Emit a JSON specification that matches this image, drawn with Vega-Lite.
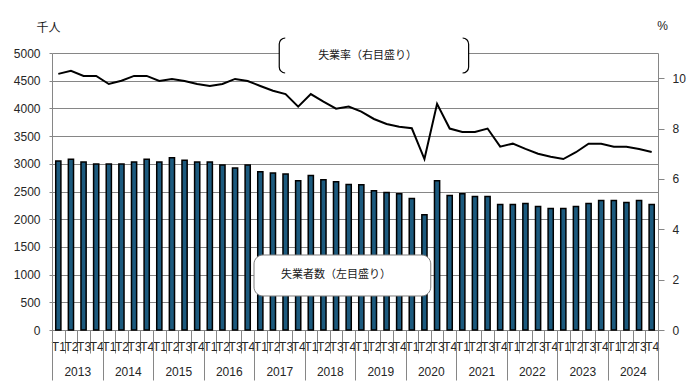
{
  "$schema": "https://vega.github.io/schema/vega-lite/v6.json",
  "width": 606,
  "height": 277,
  "autosize": {"type": "none"},
  "padding": {"left": 52, "top": 53, "right": 39, "bottom": 62},
  "background": "white",
  "config": {
    "view": {"stroke": null},
    "font": "Liberation Sans",
    "axisX": {
      "title": null, "tickBand": "extent", "tickColor": "#868686", "domainColor": "#868686",
      "labelFontSize": 12, "labelColor": "#262626", "labelAngle": 0,
      "labelOverlap": false, "labelBound": false, "labelFont": "Liberation Sans"
    }
  },
  "datasets": {
    "main": [
      {"p": "2013-T1", "year": 2013, "u": 3050, "r": 10.17},
      {"p": "2013-T2", "year": 2013, "u": 3080, "r": 10.29},
      {"p": "2013-T3", "year": 2013, "u": 3033, "r": 10.09},
      {"p": "2013-T4", "year": 2013, "u": 2998, "r": 10.09},
      {"p": "2014-T1", "year": 2014, "u": 2998, "r": 9.77},
      {"p": "2014-T2", "year": 2014, "u": 2998, "r": 9.90},
      {"p": "2014-T3", "year": 2014, "u": 3033, "r": 10.09},
      {"p": "2014-T4", "year": 2014, "u": 3080, "r": 10.09},
      {"p": "2015-T1", "year": 2015, "u": 3033, "r": 9.89},
      {"p": "2015-T2", "year": 2015, "u": 3110, "r": 9.97},
      {"p": "2015-T3", "year": 2015, "u": 3062, "r": 9.89},
      {"p": "2015-T4", "year": 2015, "u": 3033, "r": 9.77},
      {"p": "2016-T1", "year": 2016, "u": 3033, "r": 9.69},
      {"p": "2016-T2", "year": 2016, "u": 2980, "r": 9.77},
      {"p": "2016-T3", "year": 2016, "u": 2925, "r": 9.97},
      {"p": "2016-T4", "year": 2016, "u": 2980, "r": 9.89},
      {"p": "2017-T1", "year": 2017, "u": 2855, "r": 9.69},
      {"p": "2017-T2", "year": 2017, "u": 2836, "r": 9.50},
      {"p": "2017-T3", "year": 2017, "u": 2818, "r": 9.37},
      {"p": "2017-T4", "year": 2017, "u": 2693, "r": 8.87},
      {"p": "2018-T1", "year": 2018, "u": 2790, "r": 9.37},
      {"p": "2018-T2", "year": 2018, "u": 2711, "r": 9.07},
      {"p": "2018-T3", "year": 2018, "u": 2675, "r": 8.79},
      {"p": "2018-T4", "year": 2018, "u": 2628, "r": 8.87},
      {"p": "2019-T1", "year": 2019, "u": 2622, "r": 8.67},
      {"p": "2019-T2", "year": 2019, "u": 2515, "r": 8.38},
      {"p": "2019-T3", "year": 2019, "u": 2480, "r": 8.18},
      {"p": "2019-T4", "year": 2019, "u": 2461, "r": 8.07},
      {"p": "2020-T1", "year": 2020, "u": 2372, "r": 8.01},
      {"p": "2020-T2", "year": 2020, "u": 2080, "r": 6.79},
      {"p": "2020-T3", "year": 2020, "u": 2693, "r": 8.98},
      {"p": "2020-T4", "year": 2020, "u": 2426, "r": 8.00},
      {"p": "2021-T1", "year": 2021, "u": 2461, "r": 7.86},
      {"p": "2021-T2", "year": 2021, "u": 2408, "r": 7.86},
      {"p": "2021-T3", "year": 2021, "u": 2408, "r": 8.00},
      {"p": "2021-T4", "year": 2021, "u": 2265, "r": 7.28},
      {"p": "2022-T1", "year": 2022, "u": 2265, "r": 7.40},
      {"p": "2022-T2", "year": 2022, "u": 2283, "r": 7.19},
      {"p": "2022-T3", "year": 2022, "u": 2229, "r": 7.00},
      {"p": "2022-T4", "year": 2022, "u": 2194, "r": 6.88},
      {"p": "2023-T1", "year": 2023, "u": 2194, "r": 6.79},
      {"p": "2023-T2", "year": 2023, "u": 2229, "r": 7.06},
      {"p": "2023-T3", "year": 2023, "u": 2283, "r": 7.40},
      {"p": "2023-T4", "year": 2023, "u": 2336, "r": 7.40},
      {"p": "2024-T1", "year": 2024, "u": 2336, "r": 7.28},
      {"p": "2024-T2", "year": 2024, "u": 2301, "r": 7.28},
      {"p": "2024-T3", "year": 2024, "u": 2336, "r": 7.19},
      {"p": "2024-T4", "year": 2024, "u": 2265, "r": 7.07}
    ],
    "box1": [{"x1": "2017-T1", "x2": "2020-T3", "y1": 1354, "y2": 614}],
    "box2": [{"x1": "2017-T3", "x2": "2021-T2", "y1": 5271, "y2": 4639}],
    "note1": [{"x": "2018-T3", "y": 993, "t": "失業者数（左目盛り）"}],
    "note2": [{"x": "2019-T2", "y": 4946, "t": "失業率（右目盛り）"}]
  },
  "data": {"name": "main"},
  "layer": [
    {
      "layer": [
        {
          "mark": {"type": "bar", "width": {"band": 0.41}, "fill": "#1c5a7e", "stroke": "#000000", "strokeWidth": 1.5},
          "encoding": {
            "x": {
              "field": "p", "type": "ordinal",
              "scale": {"type": "band", "paddingInner": 0, "paddingOuter": 0},
              "axis": {"title": null, "labelExpr": "substring(datum.label, 5)", "tickSize": 23, "labelPadding": -12}
            },
            "y": {
              "field": "u", "type": "quantitative",
              "scale": {"domain": [0, 5000], "nice": false},
              "axis": {
                "values": [0, 500, 1000, 1500, 2000, 2500, 3000, 3500, 4000, 4500, 5000], "format": "d",
                "grid": true, "gridColor": "#868686", "domainColor": "#868686", "tickColor": "#868686",
                "tickSize": 3, "labelPadding": 9, "labelFontSize": 12, "labelColor": "#262626", "labelFont": "Liberation Sans",
                "title": "千人", "titleAngle": 0, "titleX": -4, "titleY": -26, "titleAlign": "center",
                "titleBaseline": "middle", "titleFont": "Noto Sans CJK JP", "titleFontSize": 12,
                "titleFontWeight": "normal", "titleColor": "#1a1a1a"
              }
            }
          }
        },
        {
          "mark": {"type": "line", "color": "#000000", "strokeWidth": 2},
          "encoding": {
            "x": {"field": "p", "type": "ordinal", "scale": {"type": "band", "paddingInner": 0, "paddingOuter": 0}},
            "y": {
              "field": "r", "type": "quantitative",
              "scale": {"domain": [0, 11], "nice": false},
              "axis": {
                "orient": "right", "values": [0, 2, 4, 6, 8, 10], "grid": false,
                "domainColor": "#868686", "tickColor": "#868686", "tickSize": 6, "labelPadding": 8,
                "labelFontSize": 12, "labelColor": "#262626", "labelFont": "Liberation Sans",
                "title": "%", "titleAngle": 0, "titleX": 4, "titleY": -28, "titleAlign": "center",
                "titleBaseline": "middle", "titleFont": "Liberation Sans", "titleFontSize": 12,
                "titleFontWeight": "normal", "titleColor": "#1a1a1a"
              }
            }
          }
        },
        {
          "data": {"name": "box1"},
          "mark": {"type": "rect", "fill": "#ffffff", "stroke": "#7f7f7f", "strokeWidth": 1, "cornerRadius": 9},
          "encoding": {
            "x": {"field": "x1", "type": "ordinal", "bandPosition": 0, "scale": {"type": "band", "paddingInner": 0, "paddingOuter": 0}},
            "x2": {"field": "x2", "bandPosition": 0},
            "y": {"field": "y1", "type": "quantitative", "scale": {"domain": [0, 5000], "nice": false}, "axis": null},
            "y2": {"field": "y2"}
          }
        },
        {
          "data": {"name": "box2"},
          "mark": {"type": "rect", "fill": "#ffffff", "stroke": "#000000", "strokeWidth": 1.2, "cornerRadius": 6, "strokeDash": [0, 177.4, 41.8, 177.4, 41.8, 0]},
          "encoding": {
            "x": {"field": "x1", "type": "ordinal", "bandPosition": 0, "scale": {"type": "band", "paddingInner": 0, "paddingOuter": 0}},
            "x2": {"field": "x2", "bandPosition": 0},
            "y": {"field": "y1", "type": "quantitative", "scale": {"domain": [0, 5000], "nice": false}, "axis": null},
            "y2": {"field": "y2"}
          }
        },
        {
          "data": {"name": "note1"},
          "mark": {"type": "text", "font": "Noto Sans CJK JP", "fontSize": 11, "color": "#1a1a1a", "align": "center", "baseline": "middle"},
          "encoding": {
            "x": {"field": "x", "type": "ordinal", "bandPosition": 0.5, "scale": {"type": "band", "paddingInner": 0, "paddingOuter": 0}},
            "y": {"field": "y", "type": "quantitative", "scale": {"domain": [0, 5000], "nice": false}, "axis": null},
            "text": {"field": "t"}
          }
        },
        {
          "data": {"name": "note2"},
          "mark": {"type": "text", "font": "Noto Sans CJK JP", "fontSize": 11, "color": "#1a1a1a", "align": "center", "baseline": "middle"},
          "encoding": {
            "x": {"field": "x", "type": "ordinal", "bandPosition": 0, "scale": {"type": "band", "paddingInner": 0, "paddingOuter": 0}},
            "y": {"field": "y", "type": "quantitative", "scale": {"domain": [0, 5000], "nice": false}, "axis": null},
            "text": {"field": "t"}
          }
        }
      ],
      "resolve": {"scale": {"y": "independent"}}
    },
    {
      "mark": {"type": "point", "opacity": 0},
      "encoding": {
        "x": {
          "field": "year", "type": "ordinal",
          "scale": {"type": "band", "paddingInner": 0, "paddingOuter": 0},
          "axis": {"orient": "bottom", "title": null, "tickSize": 50, "domain": false, "labelPadding": -14}
        }
      }
    }
  ],
  "resolve": {"scale": {"x": "independent"}}
}
